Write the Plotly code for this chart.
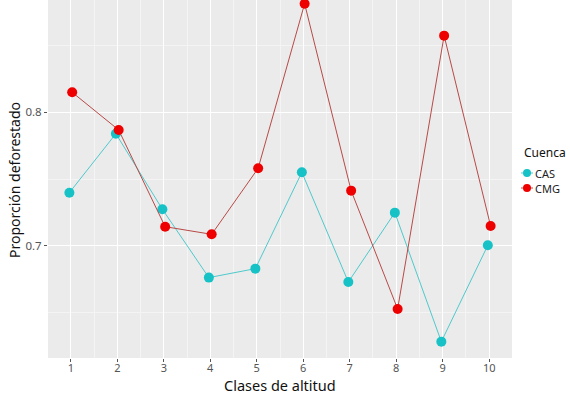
import plotly.graph_objects as go

clases = [1, 2, 3, 4, 5, 6, 7, 8, 9, 10]
cas = [0.7398, 0.7838, 0.7274, 0.6764, 0.6831, 0.7550, 0.6731, 0.7249, 0.6286, 0.7005]
cmg = [0.8147, 0.7866, 0.7144, 0.7087, 0.7580, 0.8808, 0.7413, 0.6530, 0.8570, 0.7149]
series = ["CAS", "CMG"]
line_colors = ["#4FC9CC", "#B84A47"]
marker_colors = ["#16C2C6", "#EE0000"]
dodge = 0.03

W, H = 570, 396
ML, MR, MT, MB = 48, 58, 0, 38

fig = go.Figure()
for i, (name, vals) in enumerate(zip(series, [cas, cmg])):
    off = -dodge if i == 0 else dodge
    fig.add_trace(go.Scatter(
        x=[c + off for c in clases], y=vals, name=name, mode="lines+markers",
        line=dict(color=line_colors[i], width=1),
        marker=dict(color=marker_colors[i], size=10),
        showlegend=False,
    ))

font = "Noto Sans, Open Sans, sans-serif"

def px2paper_x(px):
    return (px - ML) / (W - ML - MR)

def px2paper_y(py):
    return 1 - (py - MT) / (H - MT - MB)

annotations = [
    dict(text="Cuenca", x=px2paper_x(522), y=px2paper_y(152), xref="paper", yref="paper",
         xanchor="left", yanchor="middle", showarrow=False, font=dict(size=12, color="#111111")),
    dict(text="Clases de altitud", x=0.5, y=px2paper_y(396), xref="paper", yref="paper",
         xanchor="center", yanchor="bottom", showarrow=False, borderpad=0,
         font=dict(size=14.5, color="#111111")),
    dict(text="Proporción deforestado", x=px2paper_x(14), y=px2paper_y(180), xref="paper", yref="paper",
         xanchor="center", yanchor="middle", showarrow=False, textangle=-90,
         font=dict(size=14, color="#111111")),
]
shapes = []
for i, name in enumerate(series):
    yy = 173 + i * 15
    annotations.append(dict(text=name, x=px2paper_x(533), y=px2paper_y(yy), xref="paper", yref="paper",
                            xanchor="left", yanchor="middle", showarrow=False,
                            font=dict(size=11, color="#222222")))
    shapes.append(dict(type="line", xref="paper", yref="paper",
                       x0=px2paper_x(521), x1=px2paper_x(533), y0=px2paper_y(yy), y1=px2paper_y(yy),
                       line=dict(color=line_colors[i], width=1)))
    shapes.append(dict(type="circle", xref="paper", yref="paper",
                       x0=px2paper_x(523), x1=px2paper_x(531), y0=px2paper_y(yy - 4), y1=px2paper_y(yy + 4),
                       fillcolor=marker_colors[i], line=dict(width=0)))

fig.update_layout(
    width=W, height=H,
    margin=dict(l=ML, r=MR, t=MT, b=MB, autoexpand=False),
    paper_bgcolor="white", plot_bgcolor="#EBEBEB",
    font=dict(family=font, color="#222222"),
    showlegend=False,
    annotations=annotations,
    shapes=shapes,
    xaxis=dict(
        range=[0.51, 10.49], tickmode="array", tickvals=clases,
        ticktext=[str(c) for c in clases], automargin=False,
        showgrid=True, gridcolor="white", gridwidth=1.2,
        ticks="outside", ticklen=3, tickcolor="#555555",
        tickfont=dict(size=11, color="#555555"), ticklabelstandoff=-3,
        zeroline=False, showline=False,
        minor=dict(tickmode="array", tickvals=[c + 0.5 for c in clases[:-1]],
                   showgrid=True, gridcolor="#F4F4F4", gridwidth=0.6),
    ),
    yaxis=dict(
        range=[0.6164, 0.8836], tickmode="array", tickvals=[0.7, 0.8],
        ticktext=["0.7", "0.8"], automargin=False,
        showgrid=True, gridcolor="white", gridwidth=1.2,
        ticks="outside", ticklen=3, tickcolor="#555555",
        tickfont=dict(size=11.5, color="#555555"),
        zeroline=False, showline=False,
        minor=dict(tickmode="array", tickvals=[0.65, 0.75, 0.85],
                   showgrid=True, gridcolor="#F4F4F4", gridwidth=0.6),
    ),
)
fig.write_html("out.html", config={"displayModeBar": False},
               post_script="document.body.style.margin='0';")
